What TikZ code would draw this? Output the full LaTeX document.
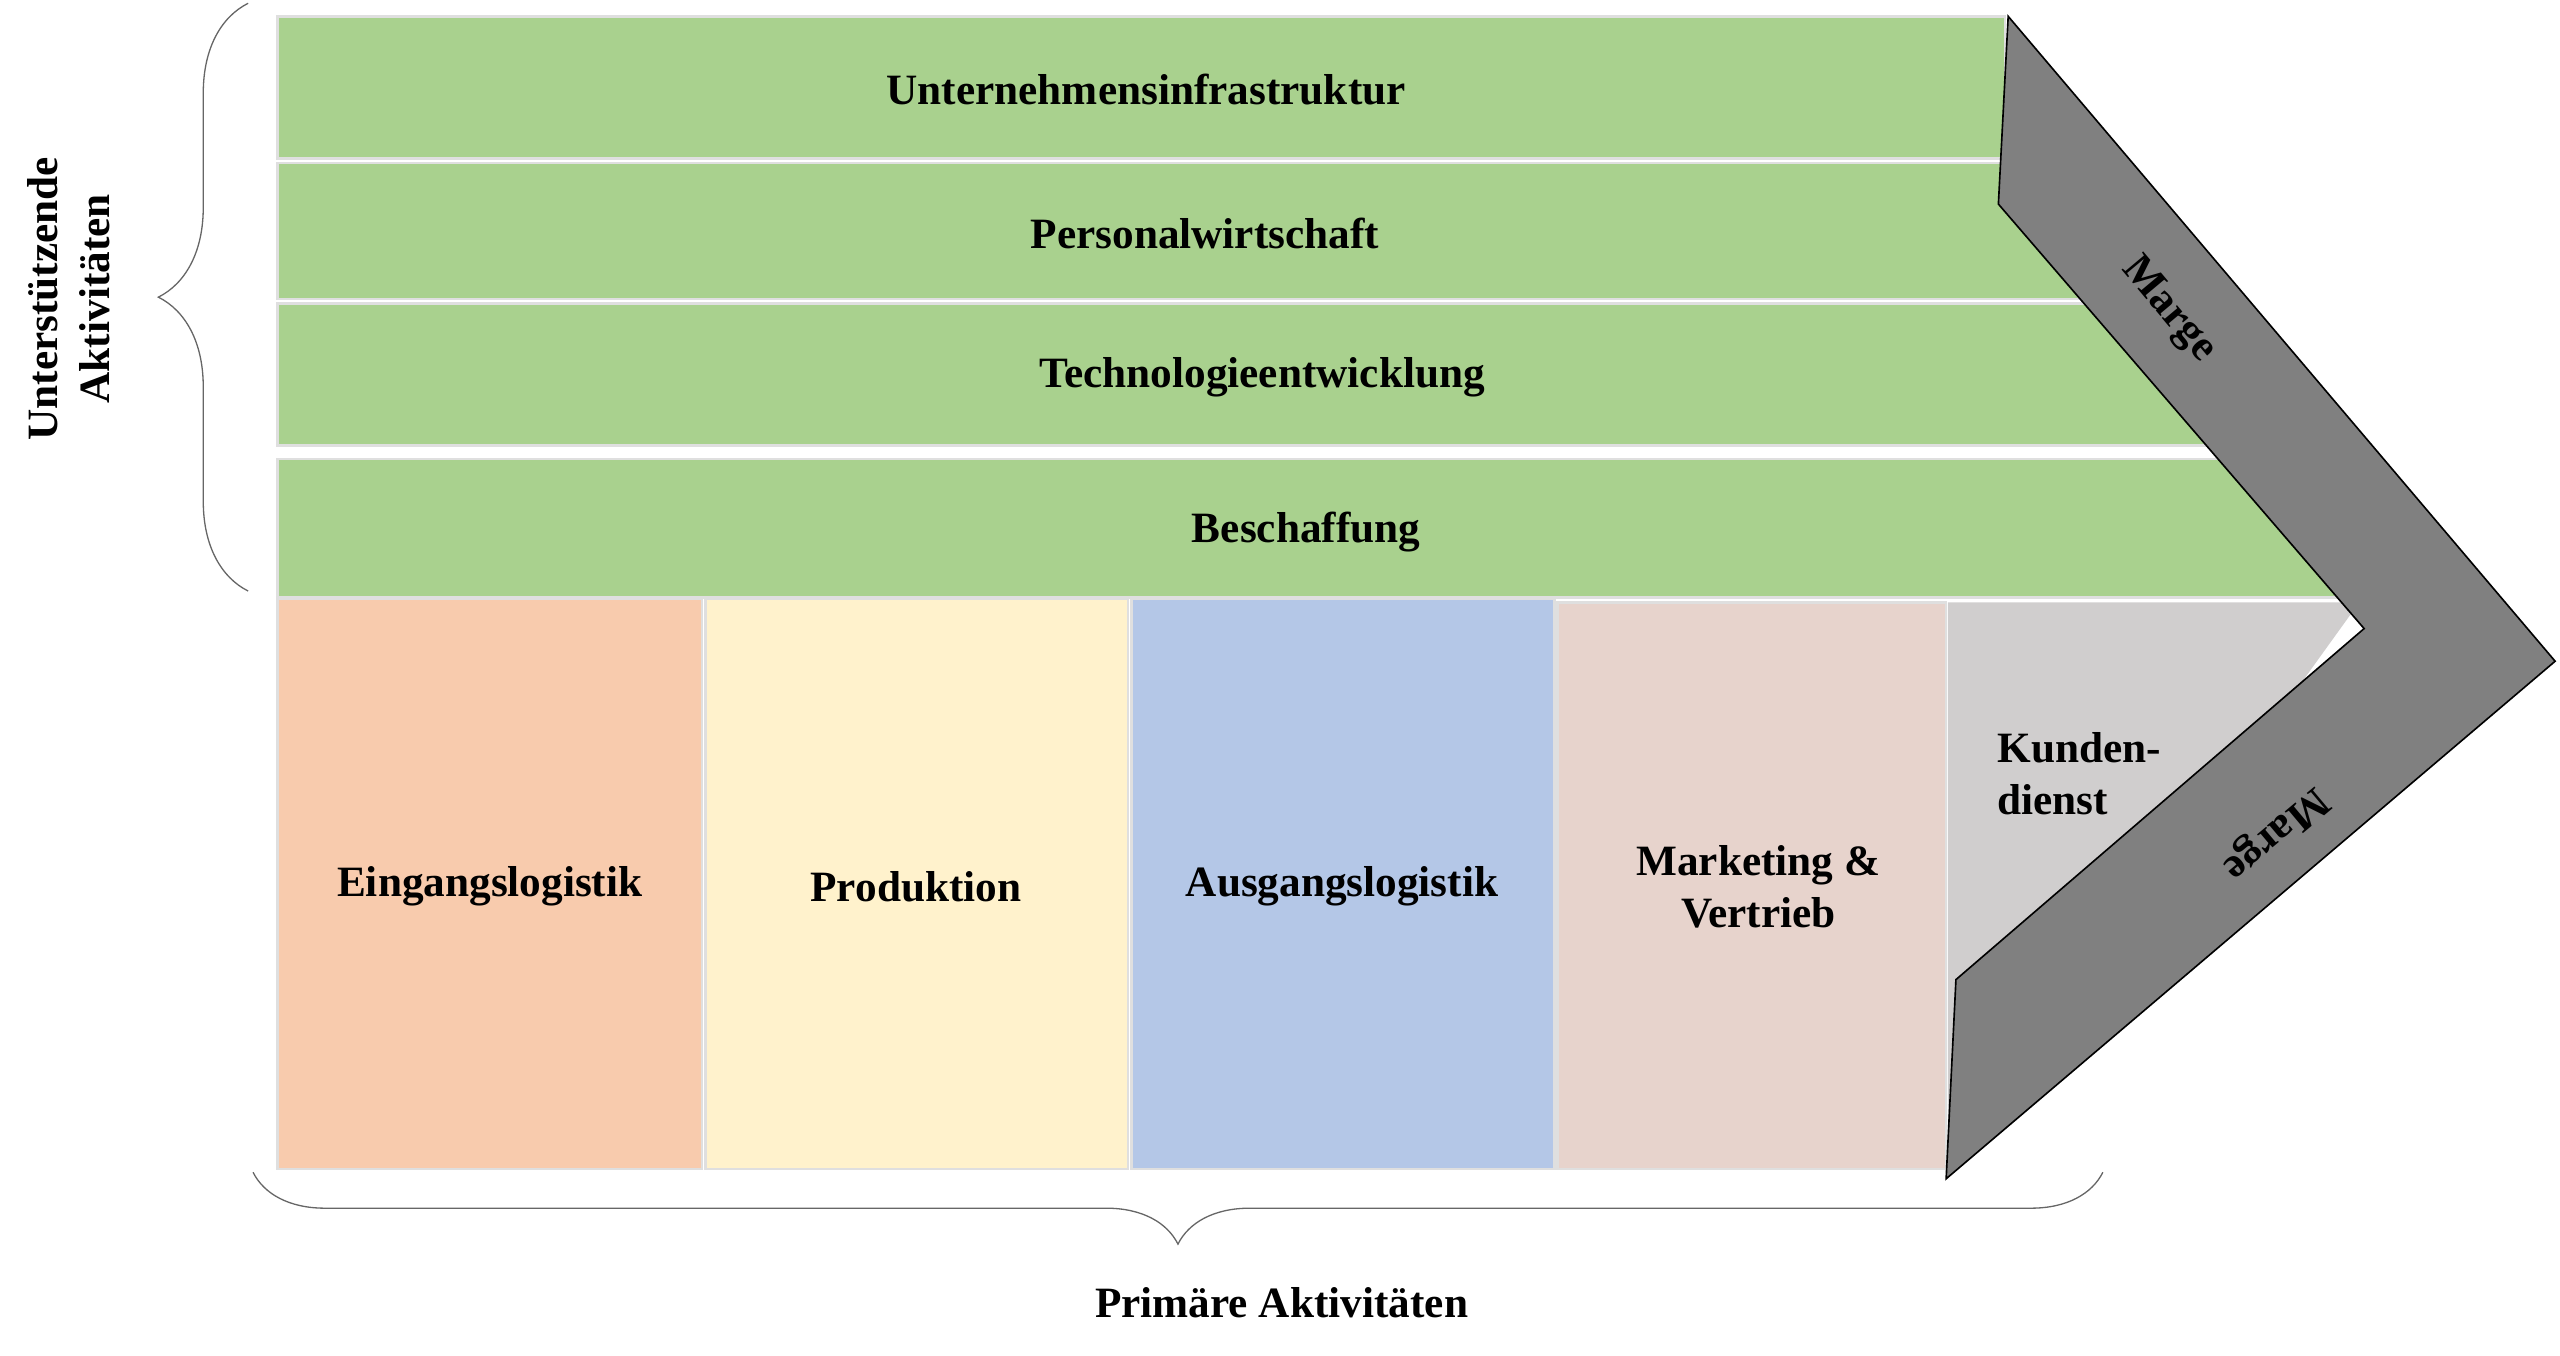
\documentclass[tikz,border=0pt]{standalone}
\usepackage{fontspec}
\setmainfont{Liberation Serif}
\usetikzlibrary{decorations.pathreplacing}
\definecolor{supgreen}{HTML}{A9D18E}
\definecolor{inlog}{HTML}{F8CBAD}
\definecolor{prod}{HTML}{FFF2CC}
\definecolor{outlog}{HTML}{B4C7E7}
\definecolor{mkt}{HTML}{E7D3CC}
\definecolor{serv}{HTML}{D0CECE}
\begin{document}
\begin{tikzpicture}
  [x=1pt, y=-1pt,
   every node/.style={font=\fontsize{26.5}{32}\selectfont\bfseries, align=center},
   bar/.style={draw=gray!25, line width=1.5pt},
   brc/.style={draw=gray!80!black, line width=0.8pt, decorate, decoration={brace, amplitude=#1}}]
  \useasboundingbox (0,0) rectangle (1568,830);
  % support activities
  \fill[bar, fill=supgreen] (170,10) rectangle (1228,97);
  \fill[bar, fill=supgreen] (170,100) rectangle (1300,183);
  \fill[bar, fill=supgreen] (170,186) rectangle (1375,273);
  \fill[bar, fill=supgreen] (170,281) rectangle (1455,366);
  \node (infra) at (702,55) {Unternehmensinfrastruktur};
  \node (hr) at (738,143) {Personalwirtschaft};
  \node (tech) at (773,231) {Technologieentwicklung};
  \node (proc) at (800,326) {Beschaffung};
  % primary activities
  \fill[bar, fill=inlog] (170,367) rectangle (430,716);
  \fill[bar, fill=prod] (432,367) rectangle (691,716);
  \fill[bar, fill=outlog] (693,367) rectangle (952,716);
  \fill[bar, fill=mkt] (954,369) rectangle (1192,716);
  \fill[fill=serv] (1193,369) -- (1445,369) -- (1195,716) -- (1193,716) -- cycle;
  \node (inb) at (300,543) {Eingangslogistik};
  \node (ops) at (561,543) {Produktion};
  \node (outb) at (822,543) {Ausgangslogistik};
  \node (sales) at (1077,543) {Marketing \&\\Vertrieb};
  \node[anchor=west, align=left] (service) at (1220,474) {Kunden-\\dienst};
  % margin chevron
  \draw[fill=gray, line width=1pt]
    (1230,10) -- (1565,405) -- (1192,722) -- (1198,600) -- (1448,385) -- (1224,125) -- cycle;
  \node[rotate=-50] (margeA) at (1328,190) {Marge};
  \node[rotate=220] (margeB) at (1393,510) {Marge};
  % braces
  \draw[brc=55pt] (152,362) -- (152,2);
  \node[rotate=90] (support) at (42,183) {Unterstützende\\Aktivitäten};
  \draw[brc=44pt] (1288,718) -- (155,718);
  \node (primary) at (785,798) {Primäre Aktivitäten};
\end{tikzpicture}
\end{document}
